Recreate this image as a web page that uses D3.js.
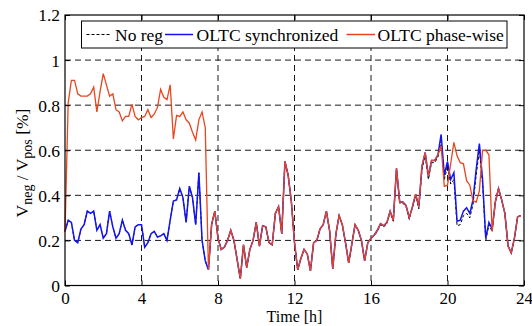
<!DOCTYPE html>
<html><head><meta charset="utf-8">
<script src="https://cdn.jsdelivr.net/npm/d3@7/dist/d3.min.js"></script>
<style>body{margin:0;background:#fff}svg{display:block}text{font-family:"Liberation Serif","Times New Roman",serif;fill:#000}</style>
</head><body><svg id="c" width="532" height="326"></svg>
<script>
// sample step (hours) of the series below: 10-minute values
const stepHours = 1/6;
const xTicks = [0,4,8,12,16,20,24];
const yTicks = [0,0.2,0.4,0.6,0.8,1.0,1.2];
const yTickLabels = ["0","0.2","0.4","0.6","0.8","1","1.2"];
const seriesNames = ["No reg","OLTC synchronized","OLTC phase-wise"];

const oltcSync = [
0.24,0.29,0.28,0.20,0.19,0.25,0.27,0.33,0.32,0.33,0.245,0.27,
0.21,0.23,0.33,0.26,0.21,0.23,0.29,0.245,0.23,0.18,0.26,0.27,
0.27,0.17,0.19,0.23,0.24,0.215,0.22,0.23,0.20,0.29,0.375,0.38,
0.43,0.39,0.28,0.44,0.39,0.27,0.50,0.20,0.11,0.07,0.27,0.33,
0.21,0.16,0.17,0.20,0.245,0.20,0.115,0.03,0.18,0.08,0.16,0.20,
0.28,0.175,0.265,0.26,0.19,0.18,0.32,0.35,0.23,0.55,0.49,0.375,
0.19,0.07,0.12,0.16,0.14,0.065,0.19,0.20,0.25,0.27,0.33,0.245,
0.075,0.23,0.31,0.27,0.19,0.10,0.185,0.27,0.245,0.20,0.11,0.19,
0.21,0.224,0.245,0.275,0.265,0.28,0.33,0.29,0.52,0.37,0.37,0.355,
0.30,0.35,0.405,0.35,0.53,0.59,0.485,0.555,0.555,0.58,0.67,0.49,
0.55,0.47,0.50,0.285,0.29,0.33,0.345,0.32,0.38,0.515,0.63,0.47,
0.21,0.28,0.25,0.37,0.43,0.38,0.32,0.175,0.145,0.21,0.305,0.31];

const oltcPhase = [
0.24,0.81,0.91,0.91,0.85,0.84,0.84,0.84,0.85,0.88,0.77,0.86,
0.94,0.89,0.84,0.85,0.78,0.77,0.73,0.75,0.75,0.805,0.75,0.735,
0.745,0.75,0.78,0.745,0.76,0.79,0.87,0.835,0.825,0.89,0.65,0.755,
0.75,0.77,0.735,0.72,0.68,0.645,0.735,0.77,0.70,0.07,0.27,0.33,
0.21,0.16,0.17,0.20,0.245,0.20,0.115,0.03,0.18,0.08,0.16,0.20,
0.28,0.175,0.265,0.26,0.19,0.18,0.32,0.35,0.23,0.55,0.49,0.375,
0.19,0.07,0.12,0.16,0.14,0.065,0.19,0.20,0.25,0.27,0.33,0.245,
0.075,0.23,0.31,0.27,0.19,0.10,0.185,0.27,0.245,0.20,0.11,0.19,
0.21,0.224,0.245,0.275,0.265,0.28,0.33,0.29,0.52,0.37,0.37,0.355,
0.30,0.35,0.405,0.35,0.53,0.59,0.485,0.555,0.555,0.58,0.62,0.44,
0.445,0.54,0.635,0.575,0.545,0.54,0.465,0.445,0.375,0.37,0.42,0.60,
0.60,0.58,0.24,0.37,0.43,0.38,0.32,0.175,0.145,0.21,0.305,0.31];

const noReg = [
0.24,0.29,0.28,0.20,0.19,0.25,0.27,0.33,0.32,0.33,0.245,0.27,
0.21,0.23,0.33,0.26,0.21,0.23,0.29,0.245,0.23,0.18,0.26,0.27,
0.27,0.17,0.19,0.23,0.24,0.215,0.22,0.23,0.20,0.29,0.375,0.38,
0.43,0.39,0.28,0.44,0.39,0.27,0.50,0.20,0.11,0.07,0.27,0.33,
0.21,0.16,0.17,0.20,0.245,0.20,0.115,0.03,0.18,0.08,0.16,0.20,
0.28,0.175,0.265,0.26,0.19,0.18,0.32,0.35,0.23,0.55,0.49,0.375,
0.19,0.07,0.12,0.16,0.14,0.065,0.19,0.20,0.25,0.27,0.33,0.245,
0.075,0.23,0.31,0.27,0.19,0.10,0.185,0.27,0.245,0.20,0.11,0.19,
0.21,0.22,0.24,0.27,0.26,0.275,0.325,0.285,0.515,0.365,0.365,0.35,
0.295,0.345,0.40,0.34,0.515,0.575,0.47,0.545,0.545,0.57,0.64,0.47,
0.53,0.45,0.47,0.265,0.27,0.31,0.32,0.30,0.36,0.49,0.60,0.45,
0.20,0.27,0.24,0.37,0.43,0.38,0.32,0.175,0.145,0.21,0.305,0.31];

const colors = {noReg:"#000000", sync:"#1414f0", phase:"#e8461e"};

const svg = d3.select("#c");
const m = {l:65, r:524, t:15, b:285.5};
const x = d3.scaleLinear().domain([0,24]).range([m.l,m.r]);
const y = d3.scaleLinear().domain([0,1.2]).range([m.b,m.t]);

// grid
const grid = svg.append("g").attr("stroke","#1a1a1a").attr("stroke-width",1).attr("stroke-dasharray","6,4");
xTicks.slice(1,-1).forEach(v=>grid.append("line").attr("x1",x(v)).attr("x2",x(v)).attr("y1",m.t).attr("y2",m.b));
yTicks.slice(1,-1).forEach(v=>grid.append("line").attr("y1",y(v)).attr("y2",y(v)).attr("x1",m.l).attr("x2",m.r));

// lines
const line = d3.line().x((d,i)=>x(i*stepHours)).y(d=>y(d));
svg.append("path").datum(noReg).attr("d",line).attr("fill","none").attr("stroke",colors.noReg).attr("stroke-width",1).attr("stroke-dasharray","3,2");
svg.append("path").datum(oltcSync).attr("d",line).attr("fill","none").attr("stroke",colors.sync).attr("stroke-width",1.5);
svg.append("path").datum(oltcPhase).attr("d",line).attr("fill","none").attr("stroke",colors.phase).attr("stroke-width",1.3);

// axes (inward ticks)
const fs = 17;
const xb = svg.append("g").attr("transform",`translate(0,${m.b})`).call(d3.axisBottom(x).tickValues(xTicks).tickSize(-5).tickFormat(d3.format("d")));
const xt = svg.append("g").attr("transform",`translate(0,${m.t})`).call(d3.axisTop(x).tickValues(xTicks).tickSize(-5).tickFormat(""));
const yl = svg.append("g").attr("transform",`translate(${m.l},0)`).call(d3.axisLeft(y).tickValues(yTicks).tickSize(-5).tickPadding(5).tickFormat((d,i)=>yTickLabels[i]));
const yr = svg.append("g").attr("transform",`translate(${m.r},0)`).call(d3.axisRight(y).tickValues(yTicks).tickSize(-5).tickFormat(""));
[xb,xt,yl,yr].forEach(g=>{g.select(".domain").remove();g.selectAll("line").attr("stroke","#000");g.selectAll("text").attr("font-size",fs).attr("font-family","Liberation Serif");});
xb.selectAll("text").attr("dy",null).attr("y",18.5);
yl.selectAll("text").attr("dy","0.34em").attr("font-size",17.5);

svg.append("rect").attr("x",m.l).attr("y",m.t).attr("width",m.r-m.l).attr("height",m.b-m.t).attr("fill","none").attr("stroke","#000").attr("stroke-width",1.2);

// axis labels
svg.append("text").attr("x",(m.l+m.r)/2).attr("y",322.3).attr("text-anchor","middle").attr("font-size",16).text("Time [h]");
const yt = svg.append("text").attr("transform","translate(28,163) rotate(-90)").attr("text-anchor","middle").attr("font-size",17.5);
yt.append("tspan").text("V");
yt.append("tspan").attr("font-size",14).attr("dy",4).text("neg");
yt.append("tspan").attr("dy",-4).text(" / V");
yt.append("tspan").attr("font-size",14).attr("dy",4).text("pos");
yt.append("tspan").attr("dy",-4).text(" [%]");

// legend
const lg = svg.append("g");
lg.append("rect").attr("x",81.5).attr("y",21).attr("width",425.5).attr("height",27).attr("fill","#fff").attr("stroke","#000").attr("stroke-width",1);
const ly = 34.5;
const items = [
  {name:seriesNames[0], c:colors.noReg, dash:"3,2", x0:86.5, x1:111.5, tx:115},
  {name:seriesNames[1], c:colors.sync, dash:null, x0:165, x1:193, tx:196.5},
  {name:seriesNames[2], c:colors.phase, dash:null, x0:346.5, x1:375, tx:377.5}
];
items.forEach(it=>{
  lg.append("line").attr("x1",it.x0).attr("x2",it.x1).attr("y1",ly).attr("y2",ly).attr("stroke",it.c).attr("stroke-width",it.dash?1:1.5).attr("stroke-dasharray",it.dash);
  lg.append("text").attr("x",it.tx).attr("y",ly+6).attr("font-size",17.5).text(it.name);
});
</script></body></html>
